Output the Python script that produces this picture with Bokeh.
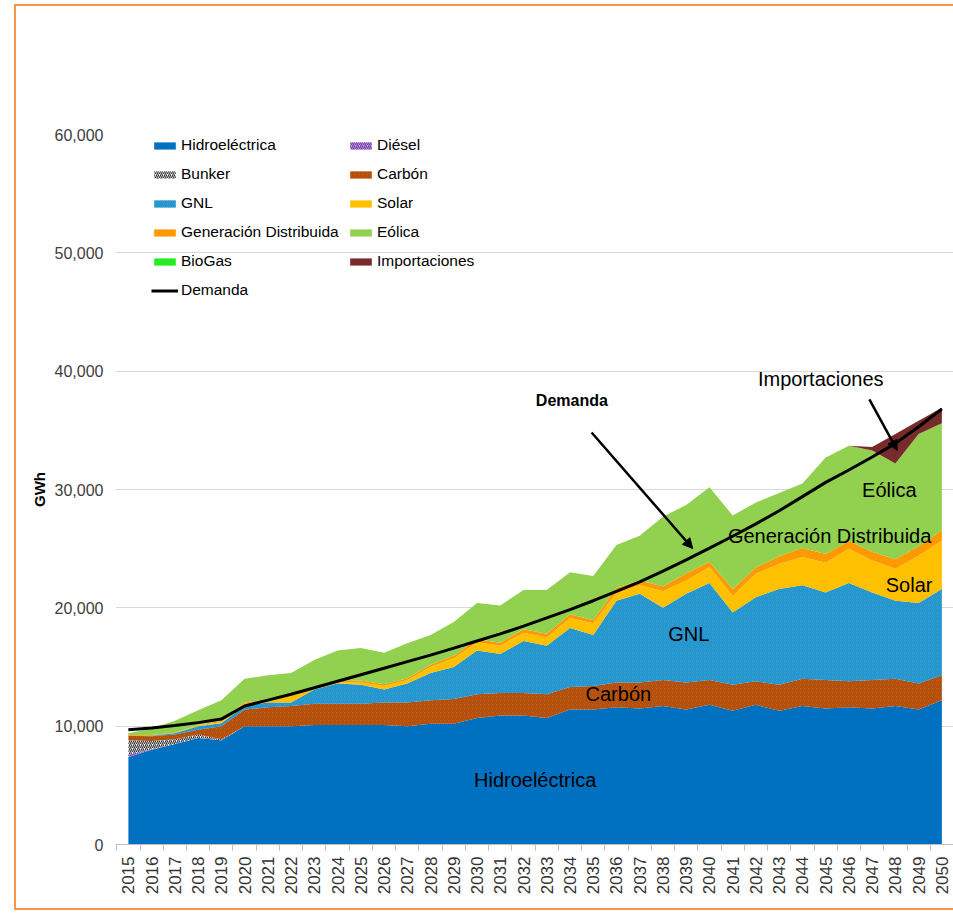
import math
from bokeh.plotting import figure
from bokeh.models import (ColumnDataSource, Legend, LegendItem, FixedTicker, NumeralTickFormatter,
                          Arrow, NormalHead, Label, InlineStyleSheet)
from bokeh.embed import file_html
from bokeh.resources import INLINE

years = [2015, 2016, 2017, 2018, 2019, 2020, 2021, 2022, 2023, 2024, 2025, 2026,
         2027, 2028, 2029, 2030, 2031, 2032, 2033, 2034, 2035, 2036, 2037, 2038,
         2039, 2040, 2041, 2042, 2043, 2044, 2045, 2046, 2047, 2048, 2049, 2050]

hidro = [7400, 8000, 8500, 9000, 8800, 10000, 10000, 10000, 10100, 10100, 10100, 10100,
         10000, 10200, 10200, 10700, 10900, 10900, 10700, 11400, 11400, 11600, 11500, 11700,
         11400, 11800, 11300, 11800, 11300, 11700, 11500, 11600, 11500, 11700, 11400, 12200]
diesel = [200, 50, 0, 0, 0, 0, 0, 0, 0, 0, 0, 0,
          0, 0, 0, 0, 0, 0, 0, 0, 0, 0, 0, 0,
          0, 0, 0, 0, 0, 0, 0, 0, 0, 0, 0, 0]
bunker = [1200, 700, 400, 300, 100, 0, 0, 0, 0, 0, 0, 0,
          0, 0, 0, 0, 0, 0, 0, 0, 0, 0, 0, 0,
          0, 0, 0, 0, 0, 0, 0, 0, 0, 0, 0, 0]
carbon = [400, 400, 400, 400, 1100, 1400, 1600, 1700, 1800, 1800, 1800, 1900,
          2000, 2000, 2100, 2000, 1900, 1900, 2000, 1900, 2000, 2100, 2200, 2200,
          2300, 2100, 2200, 2000, 2200, 2300, 2400, 2200, 2400, 2300, 2200, 2100]
gnl = [0, 50, 100, 300, 250, 300, 400, 300, 1200, 1700, 1600, 1100,
       1600, 2300, 2700, 3700, 3300, 4400, 4100, 5000, 4300, 6900, 7500, 6100,
       7500, 8200, 6100, 7100, 8100, 7900, 7400, 8300, 7400, 6600, 6800, 7300]
solar = [0, 0, 0, 50, 100, 200, 200, 600, 150, 100, 200, 300,
         300, 500, 750, 700, 700, 700, 700, 850, 1000, 700, 700, 1400,
         1100, 1350, 1400, 2000, 2100, 2400, 2500, 2900, 2700, 2700, 4000, 4100]
gen_dist = [50, 50, 50, 50, 100, 100, 100, 150, 100, 100, 150, 150,
            150, 200, 200, 250, 250, 300, 300, 300, 250, 400, 400, 400,
            600, 450, 600, 500, 650, 750, 750, 650, 750, 800, 800, 850]
eolica = [150, 550, 1000, 1250, 1750, 2000, 2000, 1750, 2250, 2600, 2750, 2650,
          2950, 2500, 2850, 3050, 3150, 3300, 3700, 3550, 3750, 3600, 3800, 5900,
          5800, 6300, 6200, 5500, 5350, 5450, 8150, 8050, 8550, 8100, 9500, 9050]
biogas = [0, 0, 0, 0, 0, 0, 0, 0, 0, 0, 0, 0,
          0, 0, 0, 0, 0, 0, 0, 0, 0, 0, 0, 0,
          0, 0, 0, 0, 0, 0, 0, 0, 0, 0, 0, 0]
importaciones = [0, 0, 0, 0, 0, 0, 0, 0, 0, 0, 0, 0,
                 0, 0, 0, 0, 0, 0, 0, 0, 0, 0, 0, 0,
                 0, 0, 0, 0, 0, 0, 0, 0, 300, 2500, 1100, 1300]
demanda = [9700, 9850, 10050, 10300, 10600, 11700, 12200, 12700, 13250, 13800, 14350, 14900,
           15450, 16000, 16600, 17200, 17800, 18450, 19150, 19850, 20600, 21400, 22200, 23100,
           24050, 25050, 26050, 27100, 28200, 29400, 30600, 31650, 32750, 33900, 35300, 36800]

y_ticks = [0, 10000, 20000, 30000, 40000, 50000, 60000]

series_keys = ["hidro", "diesel", "bunker", "carbon", "gnl", "solar", "gen_dist",
               "eolica", "biogas", "importaciones"]
series_labels = ["Hidroeléctrica", "Diésel", "Bunker", "Carbón", "GNL", "Solar",
                 "Generación Distribuida", "Eólica", "BioGas", "Importaciones"]

src = ColumnDataSource(dict(year=years, hidro=hidro, diesel=diesel, bunker=bunker,
                            carbon=carbon, gnl=gnl, solar=solar, gen_dist=gen_dist,
                            eolica=eolica, biogas=biogas, importaciones=importaciones,
                            demanda=demanda))

FONT = "Liberation Sans"

frame_css = InlineStyleSheet(css="""
:host { position: relative; }
:host::after {
  content: "";
  position: absolute;
  left: 14px; top: 4px; width: 939px; height: 906px;
  box-sizing: border-box;
  border-left: 2px solid #F79646;
  border-top: 2px solid #F79646;
  border-bottom: 2px solid #F79646;
  pointer-events: none;
  z-index: 10;
}
""")

p = figure(width=953, height=914, output_backend="svg", toolbar_location=None,
           x_range=(2014.445, 2050.5), y_range=(0, 60000),
           min_border_left=115, min_border_top=134, min_border_bottom=70, min_border_right=0,
           background_fill_color="white", border_fill_color="white",
           stylesheets=[frame_css])
p.outline_line_color = None

fills = ["#0070C0", "#C8A6EE", "#FFFFFF", "#C55A11", "#2C9FD6", "#FFC000",
         "#FF9900", "#92D050", "#22EE22", "#772B2B"]
hatches = [None, "/", "/", "/", "/", None, None, None, None, None]
hatch_cols = ["black", "#7030A0", "#222222", "#7A3207", "#1A7FB8", "black",
              "black", "black", "black", "black"]
hatch_alphas = [0, 0.9, 0.9, 0.35, 0.4, 0, 0, 0, 0, 0]

rs = p.varea_stack(series_keys, x="year", source=src, fill_color=fills,
                   hatch_pattern=hatches, hatch_color=hatch_cols, hatch_alpha=hatch_alphas,
                   hatch_scale=4, hatch_weight=1.2)

rl = p.line("year", "demanda", source=src, line_color="black", line_width=3)

# axes
p.yaxis.ticker = FixedTicker(ticks=y_ticks)
p.yaxis.formatter = NumeralTickFormatter(format="0,0")
p.yaxis.axis_line_color = None
p.yaxis.major_tick_line_color = None
p.yaxis.minor_tick_line_color = None
p.yaxis.major_label_standoff = 6
p.yaxis.major_label_text_font = FONT
p.yaxis.major_label_text_font_size = "16px"
p.yaxis.major_label_text_color = "#404040"
p.yaxis.axis_label = "GWh"
p.yaxis.axis_label_text_font = FONT
p.yaxis.axis_label_text_font_size = "15px"
p.yaxis.axis_label_text_font_style = "bold"
p.yaxis.axis_label_text_color = "#000000"
p.yaxis.axis_label_standoff = 4

p.xaxis.ticker = FixedTicker(ticks=years, minor_ticks=[y - 0.5 for y in years] + [2050.5])
p.xaxis.major_label_orientation = math.pi / 2
p.xaxis.major_tick_line_color = None
p.xaxis.minor_tick_line_color = "#BFBFBF"
p.xaxis.minor_tick_out = 6
p.xaxis.minor_tick_in = 0
p.xaxis.axis_line_color = "#BFBFBF"
p.xaxis.major_label_standoff = 6
p.xaxis.major_label_text_font = FONT
p.xaxis.major_label_text_font_size = "17px"
p.xaxis.major_label_text_color = "#333333"

p.ygrid.ticker = FixedTicker(ticks=y_ticks)
p.ygrid.grid_line_color = "#D9D9D9"
p.xgrid.visible = False

# legends (two columns)
col1 = [0, 2, 4, 6, 8]
col2 = [1, 3, 5, 7, 9]
items1 = [LegendItem(label=series_labels[i], renderers=[rs[i]]) for i in col1]
items1.append(LegendItem(label="Demanda", renderers=[rl]))
items2 = [LegendItem(label=series_labels[i], renderers=[rs[i]]) for i in col2]

common = dict(glyph_width=27, glyph_height=9, label_height=20, spacing=9, padding=0,
              margin=0, border_line_color=None, background_fill_alpha=0,
              label_standoff=3, label_text_font=FONT, label_text_font_size="15.5px",
              label_text_color="#000000")
leg1 = Legend(items=items1, location=(36, 544), **common)
leg2 = Legend(items=items2, location=(232, 573), **common)
p.add_layout(leg1)
p.add_layout(leg2)

# annotations
def lab(x, y, text, size="20px", style="normal"):
    p.add_layout(Label(x=x, y=y, text=text, text_align="center", text_baseline="middle",
                       text_font=FONT, text_font_size=size, text_font_style=style,
                       text_color="#000000"))

lab(2034.08, 37520, "Demanda", "16px", "bold")
lab(2044.79, 39300, "Importaciones")
lab(2047.74, 29920, "Eólica")
lab(2045.17, 26110, "Generación Distribuida")
lab(2048.59, 21970, "Solar")
lab(2039.11, 17830, "GNL")
lab(2036.08, 12760, "Carbón")
lab(2032.5, 5410, "Hidroeléctrica")

p.add_layout(Arrow(end=NormalHead(size=10, fill_color="black", line_color="black"),
                   x_start=2034.93, y_start=34820, x_end=2039.28, y_end=25010,
                   line_width=2.5, line_color="black"))
p.add_layout(Arrow(end=NormalHead(size=10, fill_color="black", line_color="black"),
                   x_start=2046.88, y_start=37610, x_end=2048.08, y_end=33300,
                   line_width=2.5, line_color="black"))

open("out.html", "w").write(file_html(p, INLINE))
